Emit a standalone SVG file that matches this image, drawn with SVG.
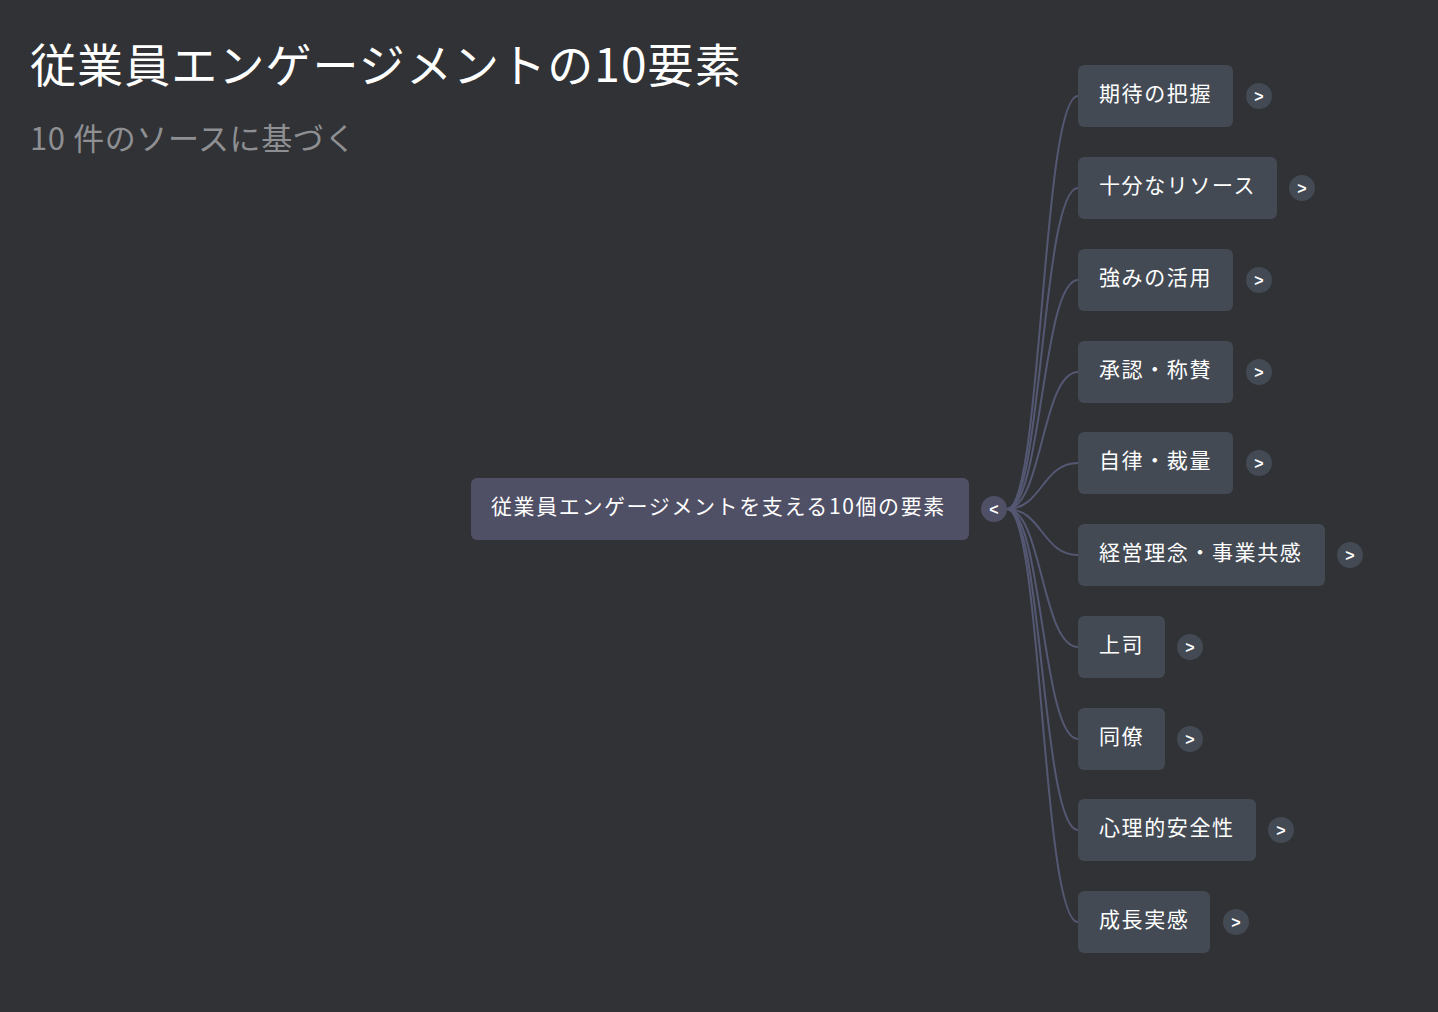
<svg xmlns="http://www.w3.org/2000/svg" width="1438" height="1012" viewBox="0 0 1438 1012">
<style>
.t{font-family:"Noto Sans CJK JP","Noto Sans",sans-serif;fill:#fff}
.s{font-size:21px;letter-spacing:1.6px}
.n{fill:#434a54}
.c{fill:#434a54}
.g{font-family:"Liberation Sans",sans-serif;font-weight:bold;font-size:16px;fill:#fff;text-anchor:middle}
.l{fill:none;stroke:#555873;stroke-width:2}
</style>
<rect width="1438" height="1012" fill="#303236"/>
<text class="t" x="30" y="82" font-size="46" letter-spacing="1.1">従業員エンゲージメントの10要素</text>
<text class="t" x="30" y="150" font-size="31" letter-spacing="0.6" style="fill:#8e8f92">10 件のソースに基づく</text>
<g id="connectors">
<path class="l" d="M1007,509 C1042,509 1042,96 1078,96"/>
<path class="l" d="M1007,509 C1042,509 1042,188 1078,188"/>
<path class="l" d="M1007,509 C1042,509 1042,280 1078,280"/>
<path class="l" d="M1007,509 C1042,509 1042,372 1078,372"/>
<path class="l" d="M1007,509 C1042,509 1042,463 1078,463"/>
<path class="l" d="M1007,509 C1042,509 1042,555 1078,555"/>
<path class="l" d="M1007,509 C1042,509 1042,647 1078,647"/>
<path class="l" d="M1007,509 C1042,509 1042,739 1078,739"/>
<path class="l" d="M1007,509 C1042,509 1042,830 1078,830"/>
<path class="l" d="M1007,509 C1042,509 1042,922 1078,922"/>
</g>
<g id="root"><rect x="471" y="478" width="498" height="62" rx="6" fill="#4f5066"/><text class="t s" x="491" y="514">従業員エンゲージメントを支える10個の要素</text><circle cx="994" cy="509" r="13" fill="#4f5066"/><text class="g" x="994" y="515">&lt;</text></g>
<g id="n1"><rect class="n" x="1078" y="65" width="155" height="62" rx="6"/><text class="t s" x="1099" y="101">期待の把握</text><circle class="c" cx="1259" cy="96" r="13"/><text class="g" x="1259" y="102">&gt;</text></g>
<g id="n2"><rect class="n" x="1078" y="157" width="199" height="62" rx="6"/><text class="t s" x="1099" y="193">十分なリソース</text><circle class="c" cx="1302" cy="188" r="13"/><text class="g" x="1302" y="194">&gt;</text></g>
<g id="n3"><rect class="n" x="1078" y="249" width="155" height="62" rx="6"/><text class="t s" x="1099" y="285">強みの活用</text><circle class="c" cx="1259" cy="280" r="13"/><text class="g" x="1259" y="286">&gt;</text></g>
<g id="n4"><rect class="n" x="1078" y="341" width="155" height="62" rx="6"/><text class="t s" x="1099" y="377">承認・称賛</text><circle class="c" cx="1259" cy="372" r="13"/><text class="g" x="1259" y="378">&gt;</text></g>
<g id="n5"><rect class="n" x="1078" y="432" width="155" height="62" rx="6"/><text class="t s" x="1099" y="468">自律・裁量</text><circle class="c" cx="1259" cy="463" r="13"/><text class="g" x="1259" y="469">&gt;</text></g>
<g id="n6"><rect class="n" x="1078" y="524" width="247" height="62" rx="6"/><text class="t s" x="1099" y="560">経営理念・事業共感</text><circle class="c" cx="1350" cy="555" r="13"/><text class="g" x="1350" y="561">&gt;</text></g>
<g id="n7"><rect class="n" x="1078" y="616" width="87" height="62" rx="6"/><text class="t s" x="1099" y="652">上司</text><circle class="c" cx="1190" cy="647" r="13"/><text class="g" x="1190" y="653">&gt;</text></g>
<g id="n8"><rect class="n" x="1078" y="708" width="87" height="62" rx="6"/><text class="t s" x="1099" y="744">同僚</text><circle class="c" cx="1190" cy="739" r="13"/><text class="g" x="1190" y="745">&gt;</text></g>
<g id="n9"><rect class="n" x="1078" y="799" width="178" height="62" rx="6"/><text class="t s" x="1099" y="835">心理的安全性</text><circle class="c" cx="1281" cy="830" r="13"/><text class="g" x="1281" y="836">&gt;</text></g>
<g id="n10"><rect class="n" x="1078" y="891" width="132" height="62" rx="6"/><text class="t s" x="1099" y="927">成長実感</text><circle class="c" cx="1236" cy="922" r="13"/><text class="g" x="1236" y="928">&gt;</text></g>
</svg>
